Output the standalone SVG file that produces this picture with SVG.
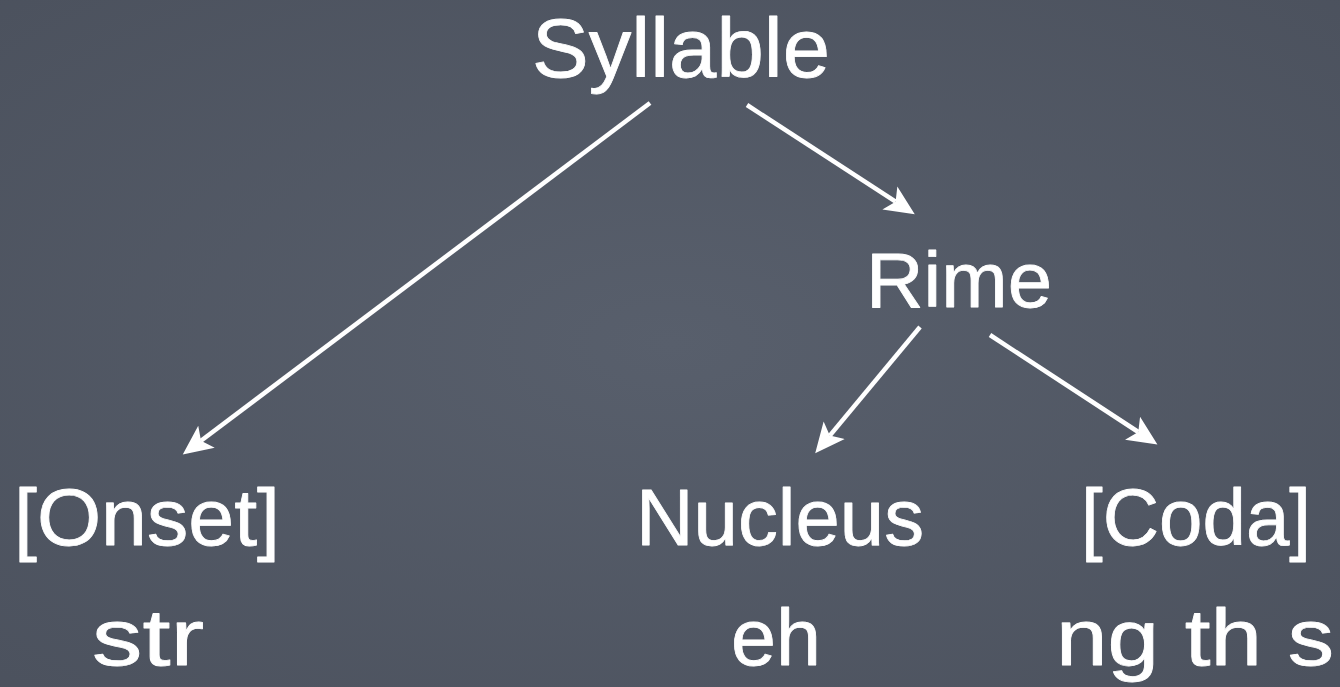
<svg xmlns="http://www.w3.org/2000/svg" width="1340" height="687" viewBox="0 0 1340 687">
  <defs>
    <radialGradient id="bg" cx="50%" cy="50%" r="75%">
      <stop offset="0" stop-color="#585f6c"/>
      <stop offset="1" stop-color="#4b515d"/>
    </radialGradient>
    <marker id="ah" markerUnits="userSpaceOnUse" markerWidth="32" markerHeight="32" viewBox="0 -14 28 28" refX="6" refY="0" orient="auto">
      <path d="M0,-12 L26,0 L0,12 L6,0 Z" fill="#ffffff"/>
    </marker>
    <style>
      .lbl { font-family: "Liberation Sans", "DejaVu Sans", sans-serif; fill: #ffffff; stroke: #ffffff; stroke-width: 0.8; stroke-linejoin: round; }
      .edge { stroke: #ffffff; stroke-width: 4.5; fill: none; marker-end: url(#ah); }
    </style>
  </defs>
  <rect x="0" y="0" width="1340" height="687" fill="url(#bg)"/>

  <g id="syllable"><text class="lbl" x="532" y="77" font-size="84" textLength="298" lengthAdjust="spacingAndGlyphs">Syllable</text></g>
  <g id="rime"><text class="lbl" x="866" y="307" font-size="78" textLength="186" lengthAdjust="spacingAndGlyphs">Rime</text></g>
  <g id="onset">
    <text class="lbl" x="14" y="545" font-size="80" textLength="266" lengthAdjust="spacingAndGlyphs">[Onset]</text>
    <text class="lbl" x="92" y="665" font-size="80" textLength="112" lengthAdjust="spacingAndGlyphs">str</text>
  </g>
  <g id="nucleus">
    <text class="lbl" x="636" y="545" font-size="80" textLength="288" lengthAdjust="spacingAndGlyphs">Nucleus</text>
    <text class="lbl" x="731" y="665" font-size="80" textLength="90" lengthAdjust="spacingAndGlyphs">eh</text>
  </g>
  <g id="coda">
    <text class="lbl" x="1081" y="545" font-size="80" textLength="230" lengthAdjust="spacingAndGlyphs">[Coda]</text>
    <text class="lbl" x="1056" y="665" font-size="80" textLength="278" lengthAdjust="spacingAndGlyphs">ng th s</text>
  </g>

  <g id="connectors">
    <line class="edge" x1="650" y1="103" x2="201.0" y2="440.8"/>
    <line class="edge" x1="747" y1="105" x2="895.6" y2="201.7"/>
    <line class="edge" x1="920" y1="327" x2="829.8" y2="435.6"/>
    <line class="edge" x1="990" y1="335" x2="1138.3" y2="432.0"/>
  </g>
</svg>
